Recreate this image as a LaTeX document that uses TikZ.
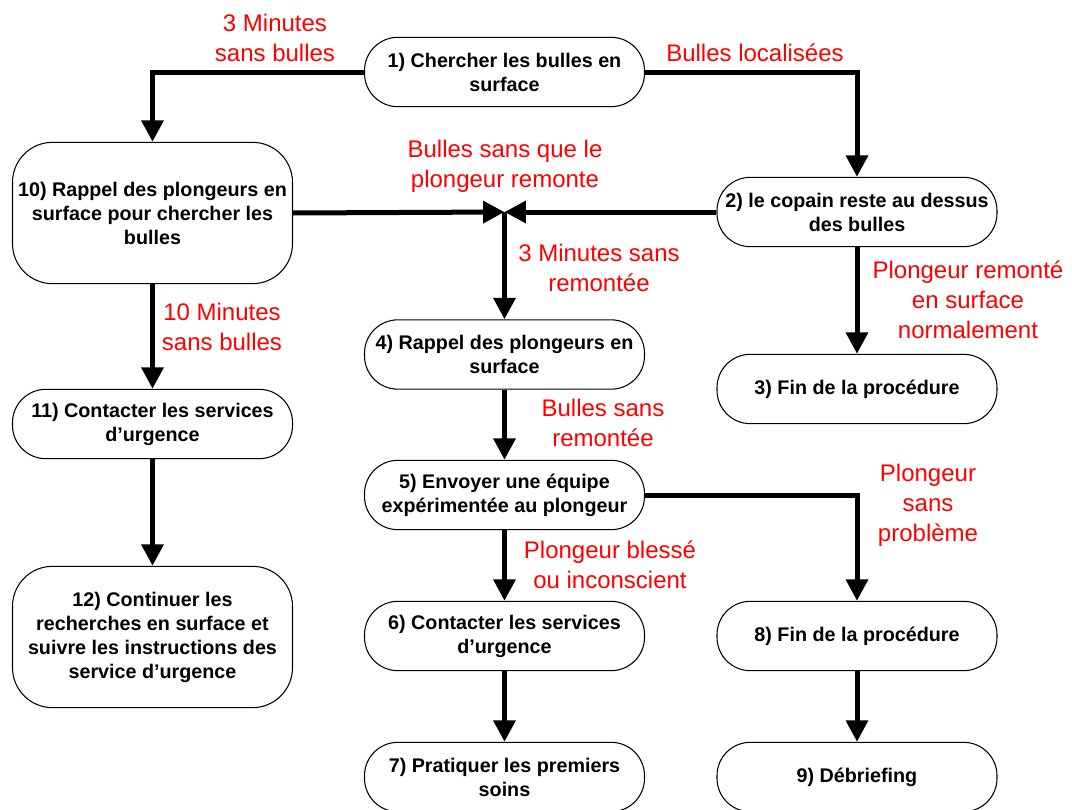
\documentclass[tikz,border=0pt]{standalone}
\usepackage{fontspec}
\setmainfont{Liberation Sans}
\usetikzlibrary{arrows.meta}
\begin{document}
\begin{tikzpicture}[x=0.75pt,y=-0.75pt,
  box/.style={draw=black,line width=0.8pt,rounded corners=25pt,minimum width=210pt,minimum height=52pt,align=center,inner sep=2pt,
    font=\fontsize{14.8pt}{18pt}\selectfont\bfseries},
  tall/.style={box,rounded corners=30pt,minimum height=106pt},
  lbl/.style={text=red,align=center,inner sep=0pt,font=\fontsize{18pt}{22.5pt}\selectfont},
  flow/.style={line width=3.75pt,-{Triangle[length=16pt,width=16pt]}},
  link/.style={line width=3.75pt}]
\useasboundingbox (0,0) rectangle (1072,810);
\node[box] (n1) at (504.5,72) {1) Chercher les bulles en\\surface};
\node[tall] (n10) at (152.5,213) {10) Rappel des plongeurs en\\surface pour chercher les\\bulles};
\node[box] (n2) at (857,212) {2) le copain reste au dessus\\des bulles};
\node[box] (n4) at (504.5,354.5) {4) Rappel des plongeurs en\\surface};
\node[box] (n3) at (857,389) {3) Fin de la procédure};
\node[box] (n11) at (152.5,424) {11) Contacter les services\\d’urgence};
\node[box] (n5) at (504.5,495) {5) Envoyer une équipe\\expérimentée au plongeur};
\node[tall] (n12) at (152.5,637) {12) Continuer les\\recherches en surface et\\suivre les instructions des\\service d’urgence};
\node[box] (n6) at (504.5,636) {6) Contacter les services\\d’urgence};
\node[box] (n8) at (857,636) {8) Fin de la procédure};
\node[box] (n7) at (504.5,777) {7) Pratiquer les premiers\\soins};
\node[box] (n9) at (857,777) {9) Débriefing};
\coordinate (j) at (504.5,212);
\coordinate (c1) at (152.5,72);
\coordinate (c2) at (857,72);
\coordinate (c5) at (857,495);
% connectors
\draw[flow] (n1.west) -- (c1) -- (n10.north);
\draw[flow] (n1.east) -- (c2) -- (n2.north);
\draw[flow] (n10.east) -- (j);
\draw[flow] (n2.west) -- (j);
\draw[flow] (j) -- (n4.north);
\draw[flow] (n2.south) -- (n3.north);
\draw[flow] (n10.south) -- (n11.north);
\draw[flow] (n11.south) -- (n12.north);
\draw[flow] (n4.south) -- (n5.north);
\draw[flow] (n5.south) -- (n6.north);
\draw[flow] (n5.east) -- (c5) -- (n8.north);
\draw[flow] (n6.south) -- (n7.north);
\draw[flow] (n8.south) -- (n9.north);
% labels
\node[lbl] (l1) at (275,38) {3 Minutes\\sans bulles};
\node[lbl] (l2) at (755,53) {Bulles localisées};
\node[lbl] (l3) at (505,166) {Bulles sans que le\\plongeur remonte};
\node[lbl] (l4) at (599,268) {3 Minutes sans\\remontée};
\node[lbl] (l5) at (968,300) {Plongeur remonté\\en surface\\normalement};
\node[lbl] (l6) at (222,327) {10 Minutes\\sans bulles};
\node[lbl] (l7) at (603,423) {Bulles sans\\remontée};
\node[lbl] (l8) at (610,565) {Plongeur blessé\\ou inconscient};
\node[lbl] (l9) at (928,505) {Plongeur\\sans\\problème};
\end{tikzpicture}
\end{document}
